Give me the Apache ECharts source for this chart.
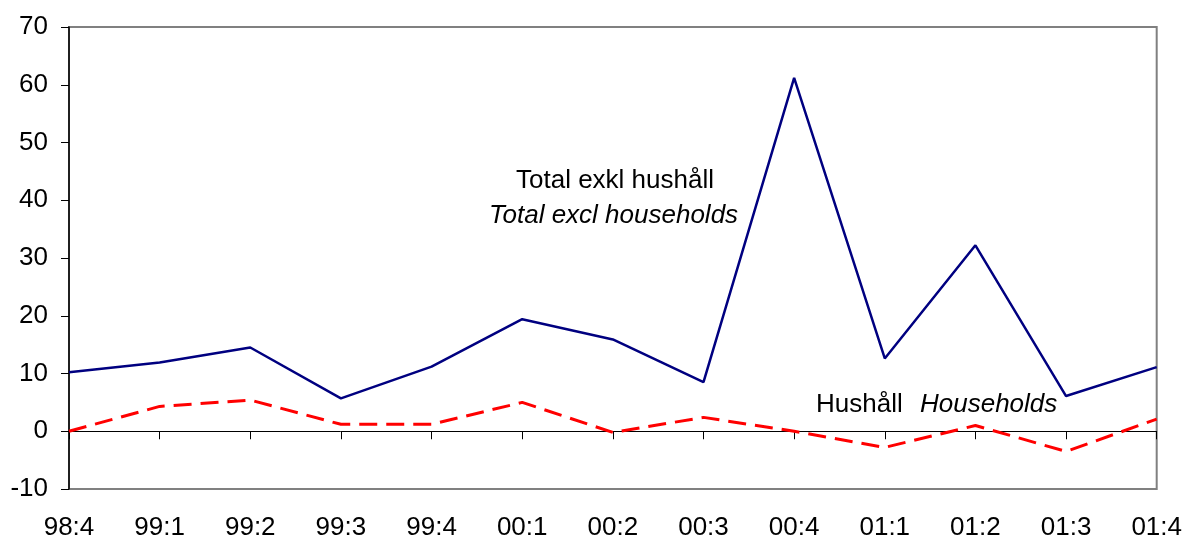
<!DOCTYPE html>
<html>
<head>
<meta charset="utf-8">
<script src="https://cdn.jsdelivr.net/npm/echarts@6/dist/echarts.min.js"></script>
<style>
  html, body { margin: 0; padding: 0; background: #fff; }
  #chart { width: 1185px; height: 541px; }
</style>
</head>
<body>
<div id="chart"></div>
<script>
var quarters = ['98:4', '99:1', '99:2', '99:3', '99:4', '00:1', '00:2', '00:3', '00:4', '01:1', '01:2', '01:3', '01:4']
var totalExclHouseholds = [10.2, 11.9, 14.5, 5.7, 11.2, 19.4, 15.9, 8.5, 61.2, 12.6, 32.2, 6.1, 11.1]
var households = [0.0, 4.3, 5.4, 1.2, 1.2, 5.0, -0.2, 2.4, 0.0, -2.8, 1.0, -3.5, 2.1]

var font = 'Liberation Sans, Arial, Helvetica, sans-serif'

var chart = echarts.init(document.getElementById('chart'))
chart.setOption({
  animation: false,
  grid: {
    left: 69,
    right: 28,
    top: 27,
    bottom: 52,
    show: true,
    borderColor: '#808080',
    borderWidth: 2,
    backgroundColor: '#fff'
  },
  xAxis: [
    {
      // zero line with ticks
      type: 'category',
      data: quarters,
      boundaryGap: false,
      axisLine: { onZero: true, lineStyle: { color: '#000', width: 1 } },
      axisTick: { show: true, length: 8, lineStyle: { color: '#000' } },
      axisLabel: { show: false },
      splitLine: { show: false }
    },
    {
      // labels at bottom
      type: 'category',
      data: quarters,
      boundaryGap: false,
      position: 'bottom',
      axisLine: { show: false, onZero: false },
      axisTick: { show: false },
      axisLabel: { color: '#000', fontSize: 26, fontFamily: font, margin: 26 },
      splitLine: { show: false }
    }
  ],
  yAxis: {
    type: 'value',
    min: -10,
    max: 70,
    interval: 10,
    axisLine: { show: true, lineStyle: { color: '#000', width: 1.5 } },
    axisTick: { show: true, length: 8, lineStyle: { color: '#000' } },
    axisLabel: { color: '#000', fontSize: 26, fontFamily: font, margin: 21 },
    splitLine: { show: false }
  },
  graphic: [
    { type: 'text', left: 516, top: 168, style: { text: 'Total exkl hushåll', fontSize: 26, fontFamily: font, fill: '#000' } },
    { type: 'text', left: 489, top: 203, style: { text: 'Total excl households', fontSize: 26, fontStyle: 'italic', fontFamily: font, fill: '#000' } },
    { type: 'text', left: 816, top: 392, style: { text: 'Hushåll', fontSize: 26, fontFamily: font, fill: '#000' } },
    { type: 'text', left: 920, top: 392, style: { text: 'Households', fontSize: 26, fontStyle: 'italic', fontFamily: font, fill: '#000' } }
  ],
  series: [
    {
      name: 'Total exkl hushåll',
      type: 'line',
      data: totalExclHouseholds,
      symbol: 'none',
      lineStyle: { color: '#000080', width: 2.5 }
    },
    {
      name: 'Hushåll',
      type: 'line',
      data: households,
      symbol: 'none',
      lineStyle: { color: '#ff0000', width: 3, type: [18, 9] }
    }
  ]
})
</script>
</body>
</html>
